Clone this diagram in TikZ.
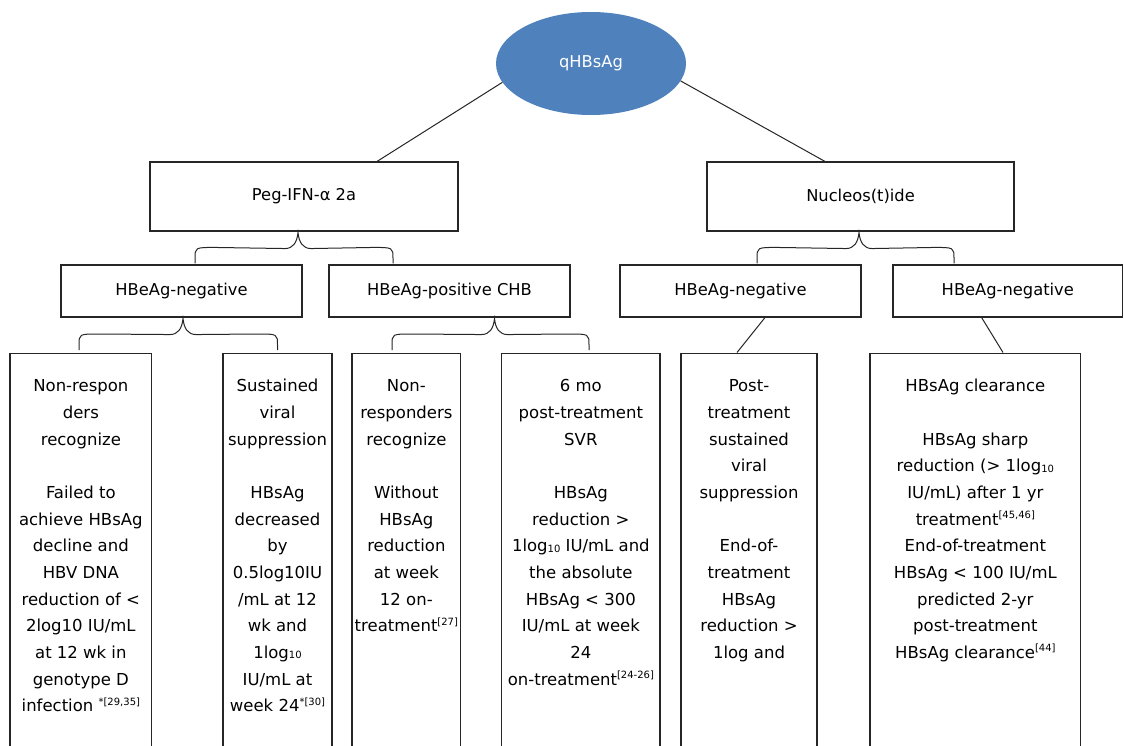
\documentclass[tikz,border=0pt]{standalone}
\usepackage{fontspec}
\setmainfont{DejaVu Sans}
\usetikzlibrary{shapes.geometric,calc}
\definecolor{qblue}{HTML}{4F81BD}
\definecolor{boxline}{HTML}{262626}
\newcommand\sps[1]{\raisebox{6.5pt}{\fontsize{10}{10}\selectfont #1}}
\newcommand\lsub{\raisebox{-0.5pt}{\fontsize{10}{10}\selectfont 10}}
% curly brace: #1 tip, #2 left end, #3 right end (all 32 units apart vertically)
\newcommand\mybrace[3]{%
  \draw[conn] (#2) -- ($(#2)+(0,-5)$) .. controls ($(#2)+(0,-16)$) .. ($(#2)+(20,-16)$)
    -- ($(#1)+(-13,16)$) .. controls ($(#1)+(-5,16)$) and ($(#1)+(-1,10)$) .. (#1)
    .. controls ($(#1)+(1,10)$) and ($(#1)+(5,16)$) .. ($(#1)+(13,16)$)
    -- ($(#3)+(-20,-16)$) .. controls ($(#3)+(0,-16)$) .. ($(#3)+(0,-5)$) -- (#3);}
\tikzset{
  box/.style={draw=boxline, line width=1.1pt, rectangle, inner sep=0pt},
  conn/.style={draw=boxline, line width=1pt},
  lbl/.style={font=\fontsize{16.5}{26.67}\selectfont, align=center, inner sep=0pt, anchor=north},
  mid/.style={box, font=\fontsize{16.3}{20}\selectfont},
}
\begin{document}
\begin{tikzpicture}[x=1pt,y=-1pt]
\path[use as bounding box, fill=white] (0,0) rectangle (1124,746);
\clip (0,0) rectangle (1124,746);

% root
\node[ellipse, fill=qblue, draw=none, minimum width=190pt, minimum height=103pt, inner sep=0pt,
      text=white, font=\fontsize{16.3}{20}\selectfont] (q) at (591,63.5) {qHBsAg};

% therapy level
\node[mid, minimum width=308pt, minimum height=69pt] (peg) at (304,196.5) {Peg-IFN-α 2a};
\node[mid, minimum width=307pt, minimum height=69pt] (nuc) at (860.5,196.5) {Nucleos(t)ide};

% HBeAg level
\node[mid, minimum width=241pt, minimum height=52pt] (n1) at (181.5,291) {HBeAg-negative};
\node[mid, minimum width=241pt, minimum height=52pt] (n2) at (449.5,291) {HBeAg-positive CHB};
\node[mid, minimum width=241pt, minimum height=52pt] (n3) at (740.5,291) {HBeAg-negative};
\node[mid, minimum width=229.7pt, minimum height=52pt] (n4) at (1007.8,291) {HBeAg-negative};

% bottom boxes (run off the bottom edge)
\node[box, anchor=north, minimum width=141.7pt, minimum height=420pt] (b1) at (80.85,352.5) {};
\node[box, anchor=north, minimum width=109pt, minimum height=420pt] (b2) at (277.5,352.5) {};
\node[box, anchor=north, minimum width=108.7pt, minimum height=420pt] (b3) at (406.35,352.5) {};
\node[box, anchor=north, minimum width=158.3pt, minimum height=420pt] (b4) at (580.85,352.5) {};
\node[box, anchor=north, minimum width=136pt, minimum height=420pt] (b5) at (749,352.5) {};
\node[box, anchor=north, minimum width=210.7pt, minimum height=420pt] (b6) at (975.35,352.5) {};

\node[lbl] (t1) at ($(b1.north)+(0,20.3)$) {\strut Non-respon\\ders\\recognize\\[26.67pt]Failed to\\achieve HBsAg\\decline and\\HBV DNA\\reduction of <\\2log10 IU/mL\\at 12 wk in\\genotype D\\infection \sps{*[29,35]}};
\node[lbl] (t2) at ($(b2.north)+(0,20.3)$) {\strut Sustained\\viral\\suppression\\[26.67pt]HBsAg\\decreased\\by\\0.5log10IU\\/mL at 12\\wk and\\1log\lsub\\IU/mL at\\week 24\sps{*[30]}};
\node[lbl] (t3) at ($(b3.north)+(0,20.3)$) {\strut Non-\\responders\\recognize\\[26.67pt]Without\\HBsAg\\reduction\\at week\\12 on-\\treatment\sps{[27]}};
\node[lbl] (t4) at ($(b4.north)+(0,20.3)$) {\strut 6 mo\\post-treatment\\SVR\\[26.67pt]HBsAg\\reduction >\\1log\lsub{} IU/mL and\\the absolute\\HBsAg < 300\\IU/mL at week\\24\\on-treatment\sps{[24-26]}};
\node[lbl] (t5) at ($(b5.north)+(0,20.3)$) {\strut Post-\\treatment\\sustained\\viral\\suppression\\[26.67pt]End-of-\\treatment\\HBsAg\\reduction >\\1log and};
\node[lbl] (t6) at ($(b6.north)+(0,20.3)$) {\strut HBsAg clearance\\[26.67pt]HBsAg sharp\\reduction (> 1log\lsub\\IU/mL) after 1 yr\\treatment\sps{[45,46]}\\End-of-treatment\\HBsAg < 100 IU/mL\\predicted 2-yr\\post-treatment\\HBsAg clearance\sps{[44]}};

% straight connectors
\draw[conn] (q.192) -- ($(peg.north)+(73,0)$);
\draw[conn] (q.349) -- ($(nuc.north)+(-35.5,0)$);
\draw[conn] ($(n3.south)+(24.5,0)$) -- ($(b5.north)+(-12,0)$);
\draw[conn] ($(n4.south)+(-26.2,0)$) -- ($(b6.north)+(27.65,0)$);

% brace connectors
\coordinate (pT) at ($(peg.south)+(-6,1)$);
\coordinate (pL) at ($(n1.north)+(13.5,-1)$);
\coordinate (pR) at ($(n2.north)+(-56.5,-1)$);
\mybrace{pT}{pL}{pR}

\coordinate (aT) at ($(n1.south)+(1.5,1)$);
\coordinate (aL) at ($(b1.north)+(-1.85,-2.5)$);
\coordinate (aR) at ($(b2.north)+(0,-2.5)$);
\mybrace{aT}{aL}{aR}

\coordinate (cT) at ($(n2.south)+(45,1)$);
\coordinate (cL) at ($(b3.north)+(-14.35,-2.5)$);
\coordinate (cR) at ($(b4.north)+(8.15,-2.5)$);
\mybrace{cT}{cL}{cR}

\coordinate (nT) at ($(nuc.south)+(-1.5,1)$);
\coordinate (nL) at ($(n3.north)+(16.5,-1)$);
\coordinate (nR) at ($(n4.north)+(-53.8,-1)$);
\mybrace{nT}{nL}{nR}
\end{tikzpicture}
\end{document}
